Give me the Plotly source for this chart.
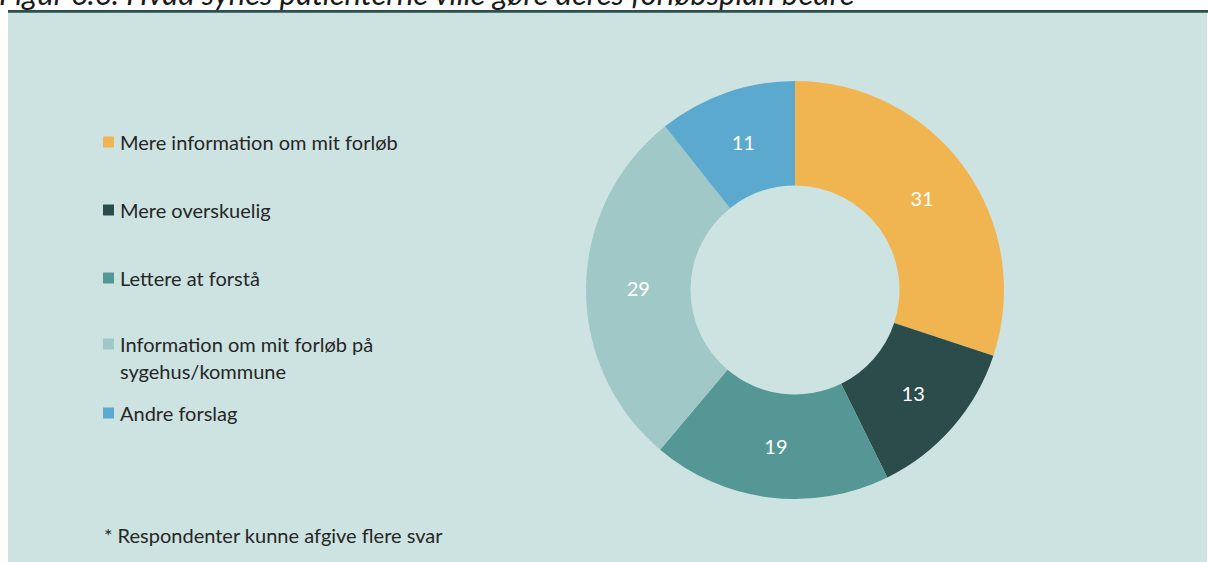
import plotly.graph_objects as go

# ---- data ----
categories = [
    "Mere information om mit forløb",
    "Mere overskuelig",
    "Lettere at forstå",
    "Information om mit forløb på<br>sygehus/kommune",
    "Andre forslag",
]
values = [31, 13, 19, 29, 11]
title_text = "Figur 6.6: Hvad synes patienterne ville gøre deres forløbsplan bedre"
footnote_text = "* Respondenter kunne afgive flere svar"

# ---- styles / layout ----
colors = ["#F0B550", "#2B4C4B", "#559794", "#A0C8C7", "#5BA9CE"]
BG = "#CDE3E1"
TEXT = "#262626"
FONT = "Lato"
W, H = 1208, 562

legend_y_px = [142, 210, 278, 344, 413]  # centre of first line of each legend item
legend_line_gap = 27
legend_sq_x0, legend_sq_x1 = 103, 114
legend_text_x = 118

def px_x(x):
    return x / W

def px_y(y):
    return 1 - y / H

fig = go.Figure()
fig.add_trace(go.Pie(
    labels=categories,
    values=values,
    marker=dict(colors=colors, line=dict(width=0)),
    hole=0.5,
    sort=False,
    direction="clockwise",
    rotation=0,
    textinfo="value",
    textposition="inside",
    insidetextorientation="horizontal",
    textfont=dict(family=FONT, size=20, color="white"),
    domain=dict(x=[px_x(586), px_x(1004)], y=[px_y(499), px_y(81)]),
    showlegend=False,
    hoverinfo="label+value",
))

shapes = []
annotations = []

# white strips outside the panel and the dark rule under the title
shapes.append(dict(type="rect", xref="paper", yref="paper", x0=0, x1=px_x(8), y0=0, y1=1,
                   fillcolor="white", line=dict(width=0), layer="above"))
shapes.append(dict(type="rect", xref="paper", yref="paper", x0=px_x(1207), x1=1, y0=0, y1=1,
                   fillcolor="white", line=dict(width=0), layer="above"))
shapes.append(dict(type="rect", xref="paper", yref="paper", x0=0, x1=1, y0=px_y(10), y1=1,
                   fillcolor="white", line=dict(width=0), layer="above"))
shapes.append(dict(type="rect", xref="paper", yref="paper", x0=px_x(8), x1=1, y0=px_y(12.7), y1=px_y(10),
                   fillcolor="#2D4F50", line=dict(width=0), layer="above"))

# custom legend
for lab, col, yc in zip(categories, colors, legend_y_px):
    shapes.append(dict(type="rect", xref="paper", yref="paper",
                       x0=px_x(legend_sq_x0), x1=px_x(legend_sq_x1),
                       y0=px_y(yc + 5.5), y1=px_y(yc - 5.5),
                       fillcolor=col, line=dict(width=0), layer="above"))
    for i, line in enumerate(lab.split("<br>")):
        annotations.append(dict(text=line, xref="paper", yref="paper",
                                x=px_x(legend_text_x), y=px_y(yc + i * legend_line_gap),
                                xanchor="left", yanchor="middle", showarrow=False,
                                font=dict(family=FONT, size=20, color=TEXT)))

# footnote
annotations.append(dict(text=footnote_text, xref="paper", yref="paper",
                        x=px_x(102), y=px_y(535), xanchor="left", yanchor="middle",
                        showarrow=False, font=dict(family=FONT, size=20, color=TEXT)))

# clipped title at the top
annotations.append(dict(text="<i>" + title_text + "</i>", xref="paper", yref="paper",
                        x=px_x(-3), y=px_y(14), xanchor="left", yanchor="bottom",
                        showarrow=False, font=dict(family=FONT, size=31, color="#1a1a1a")))

fig.update_layout(
    width=W, height=H,
    margin=dict(l=0, r=0, t=0, b=0),
    paper_bgcolor=BG,
    plot_bgcolor=BG,
    shapes=shapes,
    annotations=annotations,
)

fig.write_html("out.html",
               config={"displayModeBar": False},
               post_script="document.body.style.margin='0';document.body.style.overflow='hidden';")
